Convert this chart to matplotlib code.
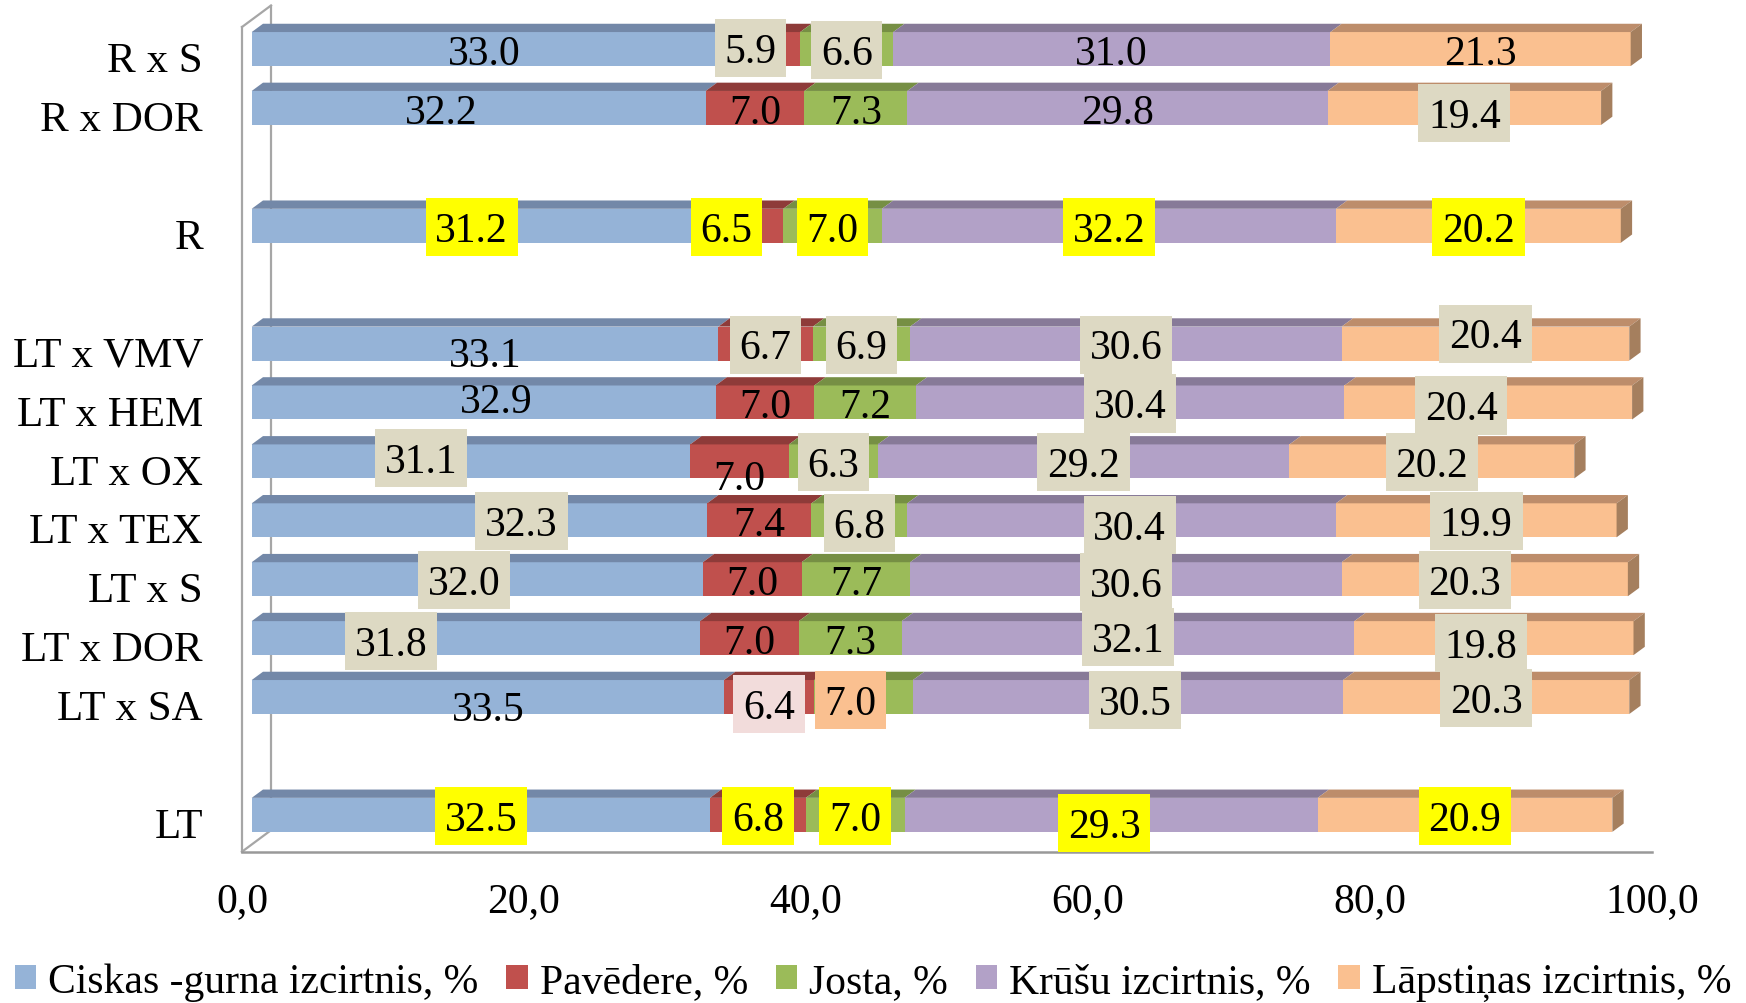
import matplotlib
matplotlib.use("Agg")
import matplotlib.pyplot as plt
from matplotlib.patches import Patch, Polygon, Rectangle
from matplotlib.path import Path

plt.rcParams["font.family"] = ["Liberation Serif", "DejaVu Serif"]

# Rows from top to bottom; the empty names are the blank spacer rows of the sheet.
categories = ["R x S", "R x DOR", "", "R", "", "LT x VMV", "LT x HEM", "LT x OX",
              "LT x TEX", "LT x S", "LT x DOR", "LT x SA", "", "LT"]
ciskas = [33.0, 32.2, None, 31.2, None, 33.1, 32.9, 31.1, 32.3, 32.0, 31.8, 33.5, None, 32.5]
pavedere = [5.9, 7.0, None, 6.5, None, 6.7, 7.0, 7.0, 7.4, 7.0, 7.0, 6.4, None, 6.8]
josta = [6.6, 7.3, None, 7.0, None, 6.9, 7.2, 6.3, 6.8, 7.7, 7.3, 7.0, None, 7.0]
krusu = [31.0, 29.8, None, 32.2, None, 30.6, 30.4, 29.2, 30.4, 30.6, 32.1, 30.5, None, 29.3]
lapstinas = [21.3, 19.4, None, 20.2, None, 20.4, 20.4, 20.2, 19.9, 20.3, 19.8, 20.3, None, 20.9]
series_names = ["Ciskas -gurna izcirtnis, %", "Pavēdere, %", "Josta, %",
                "Krūšu izcirtnis, %", "Lāpstiņas izcirtnis, %"]
x_ticks = [0, 20, 40, 60, 80, 100]

series = [ciskas, pavedere, josta, krusu, lapstinas]

FRONT = ["#95B3D7", "#C0504D", "#9BBB59", "#B2A1C7", "#FAC090"]
TOP = ["#7388A8", "#8E3B39", "#768F44", "#877A98", "#BD8D6B"]
SIDE = "#A57F5E"
WALL = "#A6A6A6"
BOXES = {"b": "#DDD9C3", "y": "#FFFF00", "p": "#F2DCDB", "o": "#FAC090"}

# background of each data label (one letter per series, '-' = none)
label_boxes = {
    "R x S": "-bb--", "R x DOR": "----b", "R": "yyyyy",
    "LT x VMV": "-bbbb", "LT x HEM": "---bb", "LT x OX": "b-bbb",
    "LT x TEX": "b-bbb", "LT x S": "b--bb", "LT x DOR": "b--bb",
    "LT x SA": "-pobb", "LT": "yyyyy",
}
# hand-moved labels, pixel nudges (right, up)
label_nudge = {
    ("R x S", 1): (-8, 2), ("R x DOR", 0): (-37, 0), ("R x DOR", 4): (0, -4),
    ("R", 1): (-11, 0), ("LT x VMV", 0): (0, -8), ("LT x VMV", 4): (0, 11),
    ("LT x HEM", 0): (13, 5), ("LT x HEM", 4): (-27, -2),
    ("LT x OX", 0): (-50, 4), ("LT x OX", 1): (0, -13),
    ("LT x TEX", 0): (42, 0), ("LT x TEX", 2): (0, -2), ("LT x TEX", 3): (8, -4),
    ("LT x S", 0): (-13, 0), ("LT x S", 3): (0, -2), ("LT x S", 4): (-20, 0),
    ("LT x DOR", 0): (-85, -2), ("LT x DOR", 3): (0, 2), ("LT x DOR", 4): (-13, -4),
    ("LT x SA", 0): (0, -8), ("LT x SA", 1): (0, -6), ("LT x SA", 2): (-13, -2),
    ("LT x SA", 3): (7, -2), ("LT", 3): (-7, -7),
}

# 3-D look, in pixels
FRONT_OFF = (9.7, 7.4)    # bar front face behind the front plane
DEPTH = (11.3, 8.3)       # bar depth
WALL_DEPTH = (29, 21.5)   # wall/floor depth
BAR_PX = 34
TEXT_DROP = 4.5           # matplotlib centres digits a bit high


def label_box(x0, y0, width, height, mutation_size):
    """Square box around a label, lifted so the digits sit in its middle."""
    pad = 0.235 * mutation_size
    lift = 0.084 * mutation_size
    xa, xb = x0 - pad, x0 + width + pad
    ya, yb = y0 - pad + lift, y0 + height + pad + lift
    return Path([(xa, ya), (xb, ya), (xb, yb), (xa, yb), (xa, ya)], closed=True)


n = len(categories)
fig = plt.figure(figsize=(17.46, 10.04), dpi=100)
ax = fig.add_axes([242 / 1746, 1 - 852.7 / 1004, 1410 / 1746, 824.7 / 1004])
ax.set_xlim(0, 100)
ax.set_ylim(-0.5, n - 0.5)
ux = ax.bbox.width / 100
uy = ax.bbox.height / n

fdx, fdy = FRONT_OFF[0] / ux, FRONT_OFF[1] / uy
ddx, ddy = DEPTH[0] / ux, DEPTH[1] / uy
wdx, wdy = WALL_DEPTH[0] / ux, WALL_DEPTH[1] / uy
bar_h = BAR_PX / uy

# left wall and floor edge
top, bot = n - 0.5, -0.5
wall_kw = dict(color=WALL, lw=1.6, clip_on=False, zorder=1)
ax.plot([0, 0], [bot, top], **wall_kw)
ax.plot([wdx, wdx], [bot + wdy, top + wdy], **wall_kw)
ax.plot([0, wdx], [top, top + wdy], **wall_kw)
ax.plot([0, wdx], [bot, bot + wdy], **wall_kw)
ax.plot([0, 100], [bot, bot], color="#999999", lw=1.8, clip_on=False, zorder=1)

for k, name in enumerate(categories):
    if not name:
        continue
    yc = n - 1 - k
    y0 = yc - bar_h / 2 + fdy
    left = fdx
    for s, vals in enumerate(series):
        w = vals[k]
        x1 = left + w
        ax.add_patch(Rectangle((left, y0), w, bar_h, fc=FRONT[s], ec="none",
                               zorder=3, clip_on=False))
        ax.add_patch(Polygon([(left, y0 + bar_h), (x1, y0 + bar_h),
                              (x1 + ddx, y0 + bar_h + ddy), (left + ddx, y0 + bar_h + ddy)],
                             closed=True, fc=TOP[s], ec="none", zorder=3, clip_on=False))
        if s == len(series) - 1:
            ax.add_patch(Polygon([(x1, y0), (x1, y0 + bar_h),
                                  (x1 + ddx, y0 + bar_h + ddy), (x1 + ddx, y0 + ddy)],
                                 closed=True, fc=SIDE, ec="none", zorder=3, clip_on=False))
        nx, ny = label_nudge.get((name, s), (0, 0))
        box = label_boxes[name][s]
        bbox = None
        if box != "-":
            bbox = dict(boxstyle=label_box, fc=BOXES[box], ec="none")
        ax.annotate(f"{w:.1f}", (left + w / 2, y0 + bar_h / 2),
                    xytext=(nx * 0.72, (ny - TEXT_DROP) * 0.72), textcoords="offset points",
                    ha="center", va="center", fontsize=30, bbox=bbox, zorder=5)
        left = x1

ax.set_xticks(x_ticks)
ax.set_xticklabels([f"{t:.1f}".replace(".", ",") for t in x_ticks])
ax.set_yticks(range(n))
ax.set_yticklabels(categories[::-1])
ax.tick_params(axis="x", length=0, pad=21.5, labelsize=30)
ax.tick_params(axis="y", length=0, pad=28, labelsize=31)
for sp in ax.spines.values():
    sp.set_visible(False)
ax.patch.set_visible(False)

handles = [Patch(fc=c, ec="none") for c in FRONT]
fig.legend(handles, series_names, loc="center", bbox_to_anchor=(0.5, 0.0215), ncol=5,
           frameon=False, fontsize=30, handlelength=0.52, handleheight=0.52,
           handletextpad=0.28, columnspacing=0.67, borderaxespad=0, borderpad=0)

fig.savefig("out.png", dpi=100)
